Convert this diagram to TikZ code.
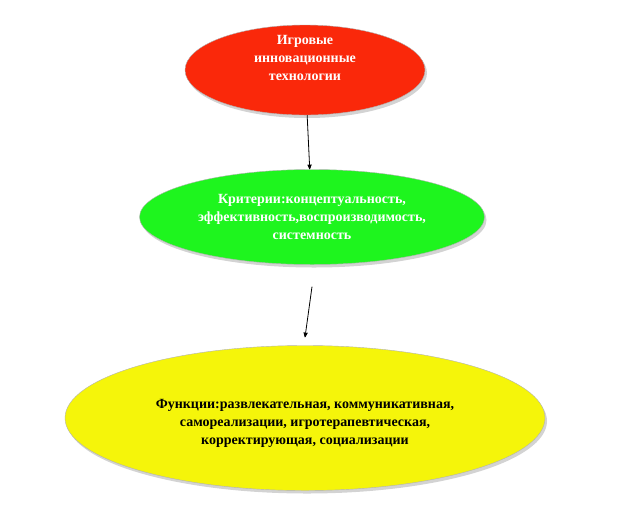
\documentclass[tikz,border=0pt]{standalone}
\usepackage{fontspec}
\setmainfont{Liberation Serif}
\usetikzlibrary{arrows}
\usetikzlibrary{shapes.geometric}
\usetikzlibrary{shadows}
\usetikzlibrary{positioning}

\definecolor{redfill}{RGB}{250,40,10}
\definecolor{greenfill}{RGB}{30,245,30}
\definecolor{yellowfill}{RGB}{245,245,10}

\begin{document}
\begin{tikzpicture}[x=1pt,y=-1pt,
        >=stealth',
        semithick,
        every node/.style={font=\bfseries\fontsize{14}{18}\selectfont,align=center},
        oval/.style={ellipse,draw=gray!60,thin,inner sep=0pt,
          drop shadow={shadow xshift=2pt,shadow yshift=-3pt,opacity=0.35}}]

      \useasboundingbox (0,0) rectangle (626,504);

      \node[oval, fill=redfill, minimum width=240, minimum height=90]
        (tech) at (305,70) {};
      \node[text=white] (techtext) at (305,58) {Игровые\\инновационные\\технологии};
      \node[oval, fill=greenfill, text=white, minimum width=345, minimum height=95]
        (crit) at (312,217) {Критерии:концептуальность,\\эффективность,воспроизводимость,\\системность};
      \node[oval, fill=yellowfill, minimum width=480, minimum height=145]
        (func) at (305,418) {};
      \node[text=black] (functext) at (305,423) {Функции:развлекательная, коммуникативная,\\самореализации, игротерапевтическая,\\корректирующая, социализации};

      \draw[->,thick] (tech) -- (crit);
      \draw[->,thick] ([yshift=-22pt]crit.south) -- ([yshift=8pt]func.north);

\end{tikzpicture}
\end{document}
